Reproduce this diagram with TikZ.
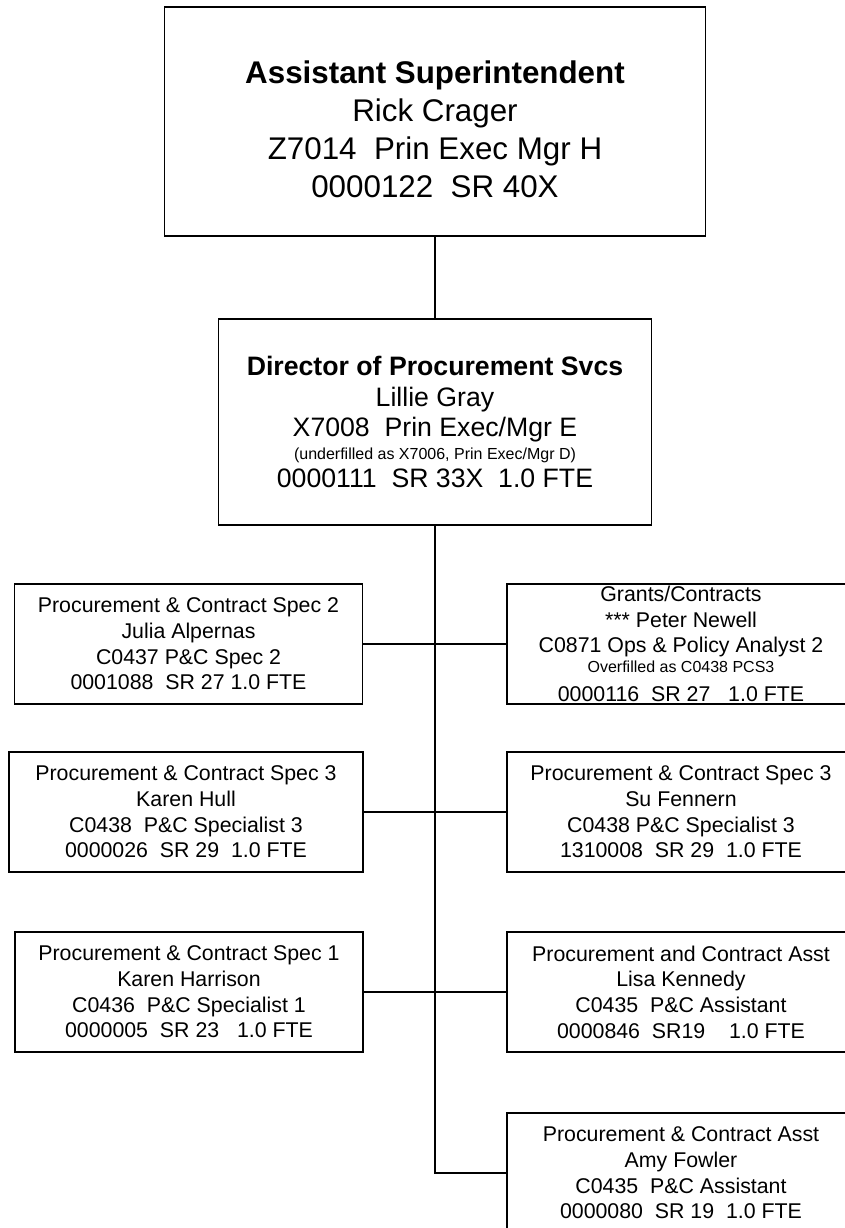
\documentclass[tikz,border=0pt]{standalone}
\usepackage{fontspec}
\setmainfont{Liberation Sans}
\usetikzlibrary{positioning}
\tikzstyle{chiefBox} = [
    rectangle,
    draw,
    line width=1.1pt,
    inner sep=0pt,
    align=center,
    minimum width=405.75pt,
    minimum height=171.75pt,
    font=\fontsize{23.5}{28.5}\selectfont
    ]
\tikzstyle{directorBox} = [
    rectangle,
    draw,
    line width=1.1pt,
    inner sep=0pt,
    text width=320pt,
    align=flush center,
    minimum width=324.75pt,
    minimum height=154.5pt,
    font=\fontsize{20}{23}\selectfont
    ]
\tikzstyle{staffBox} = [
    rectangle,
    draw,
    line width=1.1pt,
    inner sep=0pt,
    align=center,
    minimum width=261pt,
    minimum height=90pt,
    font=\fontsize{16}{19.3}\selectfont
    ]
\tikzstyle{link} = [line width=1.1pt]

\begin{document}
\begin{tikzpicture}[x=0.75pt, y=-0.75pt]
      \useasboundingbox (0,0) rectangle (844,1228);
      % top two levels
      \node[chiefBox] at (435,121.5) (supt) {\rule{0pt}{29pt}\textbf{Assistant Superintendent}\\Rick Crager\\Z7014\ \ Prin Exec Mgr H\\0000122\ \ SR 40X};
      \node[directorBox] at (435,422) (dir) {\textbf{Director of Procurement Svcs}\\Lillie Gray\\X7008\ \ Prin Exec/Mgr E\\[-6pt]{\fontsize{12}{14}\selectfont (underfilled as X7006, Prin Exec/Mgr D)}\\[-1.8pt]0000111\ \ SR 33X\ \ 1.0 FTE};
      % left column
      \node[staffBox] at (188.5,644) (spec2) {Procurement \& Contract Spec 2\\Julia Alpernas\\C0437 P\&C Spec 2\\0001088\ \ SR 27 1.0 FTE};
      \node[staffBox, minimum width=265.5pt] at (186,812) (hull) {Procurement \& Contract Spec 3\\Karen Hull\\C0438\ \ P\&C Specialist 3\\0000026\ \ SR 29\ \ 1.0 FTE};
      \node[staffBox] at (189,992) (spec1) {Procurement \& Contract Spec 1\\Karen Harrison\\C0436\ \ P\&C Specialist 1\\0000005\ \ SR 23\ \ \ 1.0 FTE};
      % right column
      \node[staffBox] at (681,644) (grants) {};
      \node[font=\fontsize{16}{19.3}\selectfont, text width=255pt, align=flush center, inner sep=0pt] at (grants.center) (grantsText) {Grants/Contracts\\{}*** Peter Newell\\C0871 Ops \& Policy Analyst 2\\[-4.3pt]{\fontsize{12}{14}\selectfont Overfilled as C0438 PCS3}\\[2.4pt]0000116\ \ SR 27\ \ \ 1.0 FTE};
      \node[staffBox] at (681,812) (fennern) {Procurement \& Contract Spec 3\\Su Fennern\\C0438 P\&C Specialist 3\\1310008\ \ SR 29\ \ 1.0 FTE};
      \node[staffBox] at (681,992) (kennedy) {Procurement and Contract Asst\\Lisa Kennedy\\C0435\ \ P\&C Assistant\\0000846\ \ SR19\ \ \ \ 1.0 FTE};
      \node[staffBox] at (681,1173) (fowler) {Procurement \& Contract Asst\\Amy Fowler\\C0435\ \ P\&C Assistant\\0000080\ \ SR 19\ \ 1.0 FTE};
      % connectors
      \draw[link] (supt) -- (dir);
      \draw[link] (dir.south) |- (fowler.west);
      \draw[link] (spec2) -- (grants);
      \draw[link] (hull) -- (fennern);
      \draw[link] (spec1) -- (kennedy);
    \end{tikzpicture}
\end{document}
